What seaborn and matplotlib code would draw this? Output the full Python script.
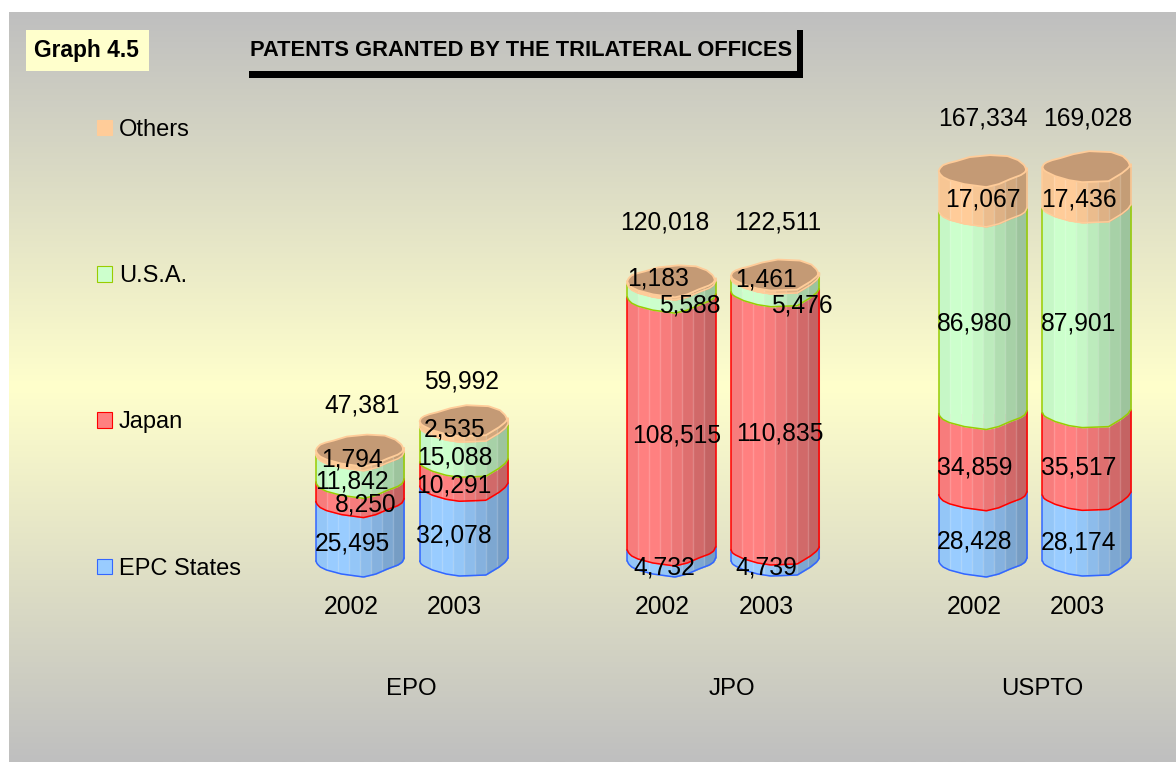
import matplotlib
matplotlib.use("Agg")
import matplotlib.pyplot as plt
from matplotlib.colors import LinearSegmentedColormap, to_rgb
from matplotlib.patches import Patch, Rectangle
import numpy as np
import pandas as pd
import seaborn as sns

# values
offices = ["EPO", "JPO", "USPTO"]
years = ["2002", "2003"]
epc_states = [25495, 32078, 4732, 4739, 28428, 28174]
japan = [8250, 10291, 108515, 110835, 34859, 35517]
usa = [11842, 15088, 5588, 5476, 86980, 87901]
others = [1794, 2535, 1183, 1461, 17067, 17436]
totals = [47381, 59992, 120018, 122511, 167334, 169028]
series_names = ["EPC States", "Japan", "U.S.A.", "Others"]

# colours
fills = ["#99ccff", "#ff8080", "#ccffcc", "#ffcc99"]
edges = ["#3366ff", "#ff0000", "#99cc00", "#ffcc99"]
cap_color = "#c49a75"
strip_shade = [0.97, 1.0, 1.0, 0.97, 0.92, 0.87, 0.82, 0.77]

# hand placement of the value labels, pixels from bar centre / middle of segment
label_dx = [
    [-8, -10, -7, -9, -8, -8],
    [6, -10, 5, 5, -8, -8],
    [-8, -9, 18, 27, -8, -8],
    [-8, -9, -13, -9, 0, -8],
]
label_dy = [
    [12, 12, 12, 12, 14, 14],
    [13, 11, 12, 13, 13, 14],
    [13, 13, 15, 20, 11, 13],
    [7, 5, -4, 2, 9, 12],
]
total_dx = [2, -2, -7, 3, 0, 1]
total_dy = [-45, -40, -59, -53, -53, -49]
office_dx = [-1, 9, 8]

# wobbly outline of the cylinders, per year: (position across bar, pixels)
front_u = [[0, 0.015, 0.05, 0.12, 0.29, 0.54, 0.68, 0.81, 0.93, 0.98, 1],
           [0, 0.015, 0.05, 0.145, 0.3, 0.45, 0.75, 0.9, 0.97, 1]]
front_px = [[0, 3, 6, 9, 13, 16, 13, 8, 4, 1, -3],
            [0, 3, 5, 9, 13, 15, 14, 6, 1, -3]]
back_u = [[0, 0.015, 0.05, 0.11, 0.2, 0.35, 0.58, 0.78, 0.9, 0.97, 1],
          [0, 0.015, 0.05, 0.11, 0.2, 0.35, 0.53, 0.78, 0.91, 0.97, 1]]
back_px = [[0, 3, 6, 8, 10, 14, 16, 15, 11, 6, 0],
           [0, 3, 5, 7, 9, 13, 16, 15, 11, 6, 0]]

W, H = 1176, 762
sns.set_theme(style="white")
plt.rcParams["font.family"] = ["Liberation Sans", "DejaVu Sans"]
plt.rcParams["text.color"] = "black"

fig = plt.figure(figsize=(W / 100, H / 100), dpi=100, facecolor="white")

# background gradient
bg = fig.add_axes([9 / W, 0, 1 - 9 / W, (H - 12) / H])
bg.axis("off")
cmap = LinearSegmentedColormap.from_list("bg", ["#bfbfbf", "#ffffcc", "#bfbfbf"])
bg.imshow(np.linspace(0, 1, 256).reshape(-1, 1), aspect="auto", cmap=cmap)

# main axes fill the figure, scales chosen so 0 sits on the bars' foot
ax = fig.add_axes([0, 0, 1, 1])
ax.patch.set_alpha(0)
unit_x = 103.8
y_scale = 0.00233  # pixels per patent
x_zero, y_zero = 360, 561
per_px = 1 / y_scale

labels = [o + " " + y for o in offices for y in years]
order = []
for o in offices:
    order += [o + " " + y for y in years] + [o + " gap"]
order = order[:-1]

layers = [epc_states, japan, usa, others]
bottom = np.zeros(6)
segments = []
for i, layer in enumerate(layers):
    df = pd.DataFrame({"bar": labels, "value": layer})
    n_before = len(ax.patches)
    sns.barplot(data=df, x="bar", y="value", order=order, width=0.85, color=fills[i],
                saturation=1, bottom=bottom, errorbar=None, linewidth=0, ax=ax)
    segments.append(list(ax.patches[n_before:]))
    bottom = bottom + np.array(layer)
ax.set_xlim(-x_zero / unit_x, (W - x_zero) / unit_x)
ax.set_ylim(-(H - y_zero) / y_scale, y_zero / y_scale)
ax.axis("off")

strip_edges = np.linspace(0, 1, len(strip_shade) + 1)
for i in range(len(layers)):
    base = np.array(to_rgb(fills[i]))
    for b, rect in enumerate(segments[i]):
        yr = b % 2
        x0, w = rect.get_x(), rect.get_width()
        lo, hi = rect.get_y(), rect.get_y() + rect.get_height()
        for k, shade in enumerate(strip_shade):
            u = np.linspace(strip_edges[k], strip_edges[k + 1], 8)
            sag = np.interp(u, front_u[yr], front_px[yr]) * per_px
            ax.fill_between(x0 + w * u, lo - sag, hi - sag, color=base * shade, lw=0.3, zorder=3)
            if k > 0:
                ax.plot([x0 + w * u[0]] * 2, [lo - sag[0], hi - sag[0]], color="white",
                        alpha=0.18, lw=1, zorder=3.5)
        u = np.linspace(0, 1, 80)
        sag = np.interp(u, front_u[yr], front_px[yr]) * per_px
        ax.plot(x0 + w * u, lo - sag, color=edges[i], lw=1.1, zorder=4)
        ax.plot([x0, x0], [lo, hi], color=edges[i], lw=1.1, zorder=4)
        ax.plot([x0 + w, x0 + w], [lo - sag[-1], hi - sag[-1]], color=edges[i], lw=1.1, zorder=4)

# caps
for b, rect in enumerate(segments[-1]):
    yr = b % 2
    x0, w = rect.get_x(), rect.get_width()
    top = rect.get_y() + rect.get_height()
    u = np.linspace(0, 1, 80)
    low = top - np.interp(u, front_u[yr], front_px[yr]) * per_px
    up = top + np.interp(u, back_u[yr], back_px[yr]) * per_px
    ax.fill(np.r_[x0 + w * u, x0 + w * u[::-1]], np.r_[low, up[::-1]], facecolor=cap_color,
            edgecolor=edges[3], lw=1.3, zorder=5)

# value labels
text_size = 17.7
for i, layer in enumerate(layers):
    for b, rect in enumerate(segments[i]):
        mid = rect.get_y() + rect.get_height() / 2
        ax.annotate(f"{layer[b]:,}", (rect.get_x() + rect.get_width() / 2, mid),
                    xytext=(label_dx[i][b], -label_dy[i][b]), textcoords="offset pixels",
                    ha="center", va="center", fontsize=text_size, zorder=6)
for b, rect in enumerate(segments[-1]):
    ax.annotate(f"{totals[b]:,}", (rect.get_x() + rect.get_width() / 2, rect.get_y() + rect.get_height()),
                xytext=(total_dx[b], -total_dy[b]), textcoords="offset pixels",
                ha="center", va="center", fontsize=text_size, zorder=6)

# year and office labels
for b, rect in enumerate(segments[0]):
    ax.annotate(years[b % 2], (rect.get_x() + rect.get_width() / 2, 0), xytext=(-9, -46),
                textcoords="offset pixels", ha="center", va="center", fontsize=text_size)
for g, office in enumerate(offices):
    r0, r1 = segments[0][2 * g], segments[0][2 * g + 1]
    centre = (r0.get_x() + r1.get_x() + r1.get_width()) / 2
    ax.annotate(office, (centre, 0), xytext=(office_dx[g], -128), textcoords="offset pixels",
                ha="center", va="center", fontsize=17.3)

# legend, spread down the left side
handles = [Patch(facecolor=fills[i], edgecolor=edges[i], lw=0.8) for i in range(3, -1, -1)]
fig.legend(handles, series_names[::-1], loc="upper left", bbox_to_anchor=(97 / W, 1 - 119 / H),
           bbox_transform=fig.transFigure, frameon=False, fontsize=17, labelspacing=5.26,
           handlelength=0.62, handleheight=0.62, handletextpad=0.3, borderpad=0, borderaxespad=0)

# header
fig.add_artist(Rectangle((26 / W, 1 - 71 / H), 123 / W, 41 / H, transform=fig.transFigure,
                         facecolor="#ffffcc", edgecolor="none"))
fig.text(34 / W, 1 - 50 / H, "Graph 4.5", fontsize=16.4, fontweight="bold", va="center")
fig.text(250 / W, 1 - 50 / H, "PATENTS GRANTED BY THE TRILATERAL OFFICES", fontsize=15.75,
         fontweight="bold", va="center")
fig.add_artist(Rectangle((249 / W, 1 - 78 / H), 554 / W, 7 / H, transform=fig.transFigure,
                         facecolor="black", edgecolor="none"))
fig.add_artist(Rectangle((797 / W, 1 - 78 / H), 6 / W, 48 / H, transform=fig.transFigure,
                         facecolor="black", edgecolor="none"))

fig.savefig("out.png", dpi=100)
